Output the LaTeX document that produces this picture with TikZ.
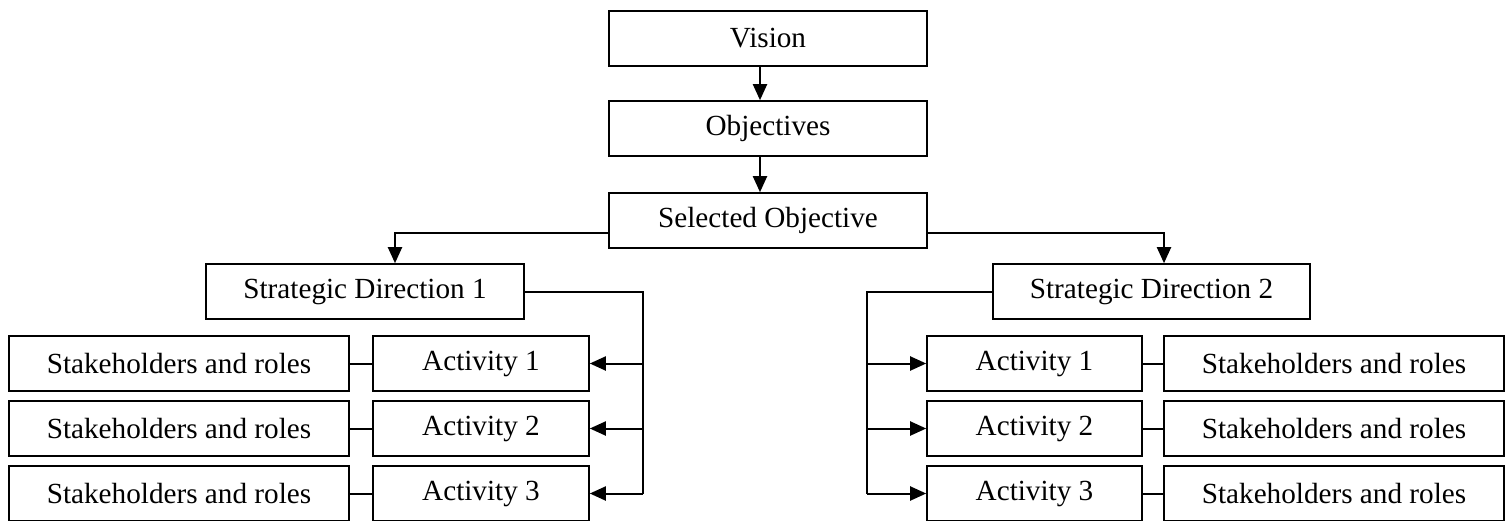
\documentclass[tikz,border=0pt]{standalone}
\usepackage{fontspec}
\setmainfont{Liberation Serif}
\usetikzlibrary{arrows.meta}

\begin{document}
\begin{tikzpicture}[x=0.5pt, y=-0.5pt,
        box/.style={draw, line width=0.8pt, minimum height=27.5pt, inner sep=0pt,
            font=\fontsize{14.6}{17}\selectfont},
        link/.style={line width=1pt},
        arr/.style={link, -{Triangle[length=8pt, width=7pt]}}]
    %\draw[lightgray] (0, 0) grid[step=100] (1510, 520);
    \useasboundingbox (0, 0) rectangle (1510, 520);
    \node[box, minimum width=159pt] (vision) at (768, 38.5) {Vision};
    \node[box, minimum width=159pt] (obj) at (768, 128.5) {Objectives};
    \node[box, minimum width=159pt] (sel) at (768, 220.5) {Selected Objective};
    \node[box, minimum width=159pt] (sd1) at (365, 291.5) {Strategic Direction 1};
    \node[box, minimum width=158.5pt] (sd2) at (1151.5, 291.5) {Strategic Direction 2};
    \foreach \i/\y in {1/363.5, 2/428.5, 3/493.5} {
        \node[box, minimum width=170pt] (stkL\i) at (179, \y) {Stakeholders and roles};
        \node[box, minimum width=108pt] (actL\i) at (481, \y) {Activity \i};
        \node[box, minimum width=107.5pt] (actR\i) at (1034.5, \y) {Activity \i};
        \node[box, minimum width=170pt] (stkR\i) at (1334, \y) {Stakeholders and roles};
    }
    \coordinate (busL) at (643, 291.5);
    \coordinate (busR) at (867, 291.5);
    \draw[arr] ([xshift=-4pt]vision.south) -- ([xshift=-4pt]obj.north);
    \draw[arr] ([xshift=-4pt]obj.south) -- ([xshift=-4pt]sel.north);
    \draw[arr] ([yshift=-6.25pt]sel.west) -| ([xshift=15pt]sd1.north);
    \draw[arr] ([yshift=-6.25pt]sel.east) -| ([xshift=6.25pt]sd2.north);
    \draw[link] (sd1.east) -| (busL |- actL3.east);
    \draw[link] (sd2.west) -| (busR |- actR3.west);
    \foreach \i in {1, 2, 3} {
        \draw[arr] (busL |- actL\i.east) -- (actL\i.east);
        \draw[arr] (busR |- actR\i.west) -- (actR\i.west);
        \draw[link] (stkL\i) -- (actL\i);
        \draw[link] (actR\i) -- (stkR\i);
    }
\end{tikzpicture}
\end{document}
